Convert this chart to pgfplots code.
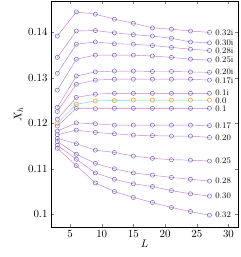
\documentclass[border=0pt]{standalone}
\usepackage{pgfplots}
\usepackage{pgfplotstable}
\pgfplotsset{compat=1.18}
\definecolor{lc}{RGB}{200,125,205}
\definecolor{mc}{RGB}{95,95,195}
\definecolor{cl}{RGB}{120,205,235}
\definecolor{om}{RGB}{245,160,50}
\tikzset{lab/.style={anchor=west,inner sep=0pt,font=\fontsize{8.5}{8.5}\selectfont},
  ser/.style={lc, line width=0.45pt, mark=o, mark size=2.1pt, mark options={mc, solid, line width=0.45pt}}}
\pgfplotstableread{
L  i32    i30    i28    i25    i20    i17    i10    r00    r10    r17    r20    r25    r28    r30    r32
3  0.1392 0.1345 0.1310 0.1273 0.1235 0.1226 0.1209 0.1200 0.1194 0.1183 0.1175 0.1167 0.1160 0.1152 0.1145
6  0.1445 0.1403 0.1374 0.1341 0.1304 0.1286 0.1257 0.1242 0.1233 0.1201 0.1185 0.1155 0.1132 0.1121 0.1107
9  0.1440 0.1404 0.1379 0.1350 0.1313 0.1295 0.1264 0.1249 0.1232 0.1199 0.1180 0.1141 0.1112 0.1091 0.1069
12 0.1429 0.1399 0.1375 0.1350 0.1315 0.1297 0.1266 0.1250 0.1233 0.1196 0.1177 0.1136 0.1100 0.1077 0.1050
15 0.1420 0.1395 0.1374 0.1350 0.1315 0.1297 0.1266 0.1251 0.1233 0.1196 0.1174 0.1128 0.1091 0.1067 0.1037
18 0.1410 0.1392 0.1371 0.1348 0.1314 0.1297 0.1266 0.1251 0.1233 0.1196 0.1173 0.1123 0.1086 0.1061 0.1026
21 0.1407 0.1387 0.1367 0.1345 0.1314 0.1297 0.1266 0.1251 0.1233 0.1196 0.1172 0.1120 0.1081 0.1052 0.1015
24 0.1403 0.1379 0.1363 0.1341 0.1313 0.1297 0.1266 0.1251 0.1233 0.1196 0.1172 0.1119 0.1077 0.1045 0.1006
27 0.1400 0.1377 0.1360 0.1339 0.1312 0.1295 0.1266 0.1251 0.1233 0.1195 0.1169 0.1117 0.1073 0.1040 0.0998
}\data
\begin{document}
\begin{tikzpicture}
\begin{axis}[
  scale only axis, width=187bp, height=226bp,
  xmin=2, xmax=31.5, ymin=0.0972, ymax=0.1469,
  xtick={5,10,15,20,25,30},
  ytick={0.10,0.11,0.12,0.13,0.14},
  yticklabel style={/pgf/number format/fixed,/pgf/number format/precision=2},
  tick align=inside, major tick length=3bp,
  tick label style={font=\fontsize{11}{12}\selectfont},
  xlabel={$L$}, ylabel={$X_h$},
  label style={font=\fontsize{11}{12}\selectfont},
  xlabel style={yshift=4bp},
  ylabel style={yshift=-2bp},
  axis line style={line width=0.6pt},
  clip=false,
]
\pgfplotsinvokeforeach{i32,i30,i28,i25,i20,i17,i10,r10,r17,r20,r25,r28,r30,r32}{
  \addplot[ser] table[x=L,y=#1]{\data};
}
\addplot[cl, line width=0.5pt, mark=o, mark size=2.1pt, mark options={om, solid, line width=0.6pt}] table[x=L,y=r00]{\data};
\node[lab] at (axis cs:27.9,0.1400) {0.32i};
\node[lab] at (axis cs:27.9,0.1377) {0.30i};
\node[lab] at (axis cs:27.9,0.1360) {0.28i};
\node[lab] at (axis cs:27.9,0.1339) {0.25i};
\node[lab] at (axis cs:27.9,0.1313) {0.20i};
\node[lab] at (axis cs:27.9,0.1294) {0.17i};
\node[lab] at (axis cs:27.9,0.1268) {0.1i};
\node[lab] at (axis cs:27.9,0.1250) {0.0};
\node[lab] at (axis cs:27.9,0.1232) {0.1};
\node[lab] at (axis cs:27.9,0.1195) {0.17};
\node[lab] at (axis cs:27.9,0.1169) {0.20};
\node[lab] at (axis cs:27.9,0.1117) {0.25};
\node[lab] at (axis cs:27.9,0.1073) {0.28};
\node[lab] at (axis cs:27.9,0.1040) {0.30};
\node[lab] at (axis cs:27.9,0.0998) {0.32};
\end{axis}
\pgfresetboundingbox
\path ([shift={(-51bp,-30bp)}]current axis.south west) rectangle ([shift={(3bp,1bp)}]current axis.north east);
\end{tikzpicture}
\end{document}
